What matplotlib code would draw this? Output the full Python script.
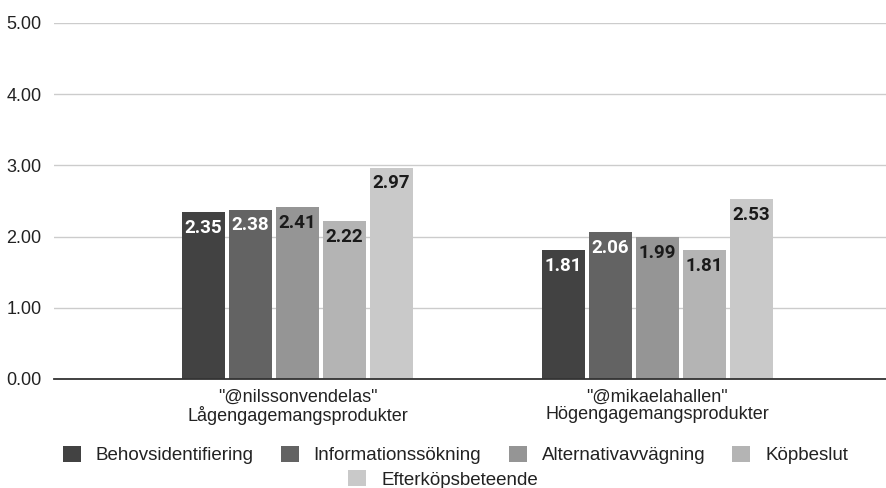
import matplotlib.pyplot as plt
import numpy as np

# data
groups = ['"@nilssonvendelas"\nLågengagemangsprodukter', '"@mikaelahallen"\nHögengagemangsprodukter']
series = ['Behovsidentifiering', 'Informationssökning', 'Alternativavvägning', 'Köpbeslut', 'Efterköpsbeteende']
behov = [2.35, 1.81]
info = [2.38, 2.06]
alternativ = [2.41, 1.99]
kopbeslut = [2.22, 1.81]
efterkop = [2.97, 2.53]
values = [behov, info, alternativ, kopbeslut, efterkop]
colors = ['#424242', '#636363', '#959595', '#b4b4b4', '#c9c9c9']
label_colors = ['white', 'white', '#1a1a1a', '#1a1a1a', '#1a1a1a']
yticks = [0, 1, 2, 3, 4, 5]

plt.rcParams['font.family'] = ['Liberation Sans', 'DejaVu Sans']

fig = plt.figure(figsize=(8.86, 4.88), dpi=100)
ax = fig.add_axes([0.061, 0.2234, 0.939, 0.7295])

x = np.arange(len(groups))
pitch = 0.1306
width = 0.119
handles = []
for i, (name, vals) in enumerate(zip(series, values)):
    pos = x + (i - 2) * pitch
    bars = ax.bar(pos, vals, width, color=colors[i], label=name, zorder=3)
    handles.append(bars)
    for xp, v in zip(pos, vals):
        ax.annotate(f'{v:.2f}', (xp, v), xytext=(0, -5), textcoords='offset points',
                    ha='center', va='top', fontsize=13.5, fontweight='bold',
                    family='Roboto', color=label_colors[i], zorder=4)

ax.set_xlim(-0.676, 1.635)
ax.set_ylim(0, 5)
ax.set_yticks(yticks)
ax.set_yticklabels([f'{t:.2f}' for t in yticks])
ax.set_xticks(x)
ax.set_xticklabels(groups, linespacing=1.0)
ax.tick_params(axis='both', length=0, labelsize=13, colors='#222222')
ax.tick_params(axis='y', pad=9)
ax.tick_params(axis='x', pad=7)
ax.grid(axis='y', color='#cccccc', linewidth=1.0, zorder=0)
for s in ['top', 'right', 'left']:
    ax.spines[s].set_visible(False)
ax.spines['bottom'].set_color('#333333')
ax.spines['bottom'].set_linewidth(1.3)
ax.spines['bottom'].set_zorder(5)

leg_kw = dict(frameon=False, fontsize=13.5, handlelength=0.96, handleheight=0.96,
              handletextpad=0.8, columnspacing=1.45, labelcolor='#222222')
leg1 = fig.legend(handles[:4], series[:4], loc='center', bbox_to_anchor=(0.514, 0.068),
                  ncol=4, **leg_kw)
leg2 = fig.legend(handles[4:], series[4:], loc='center', bbox_to_anchor=(0.5, 0.018),
                  ncol=1, **leg_kw)

fig.savefig('out.png', dpi=100)
